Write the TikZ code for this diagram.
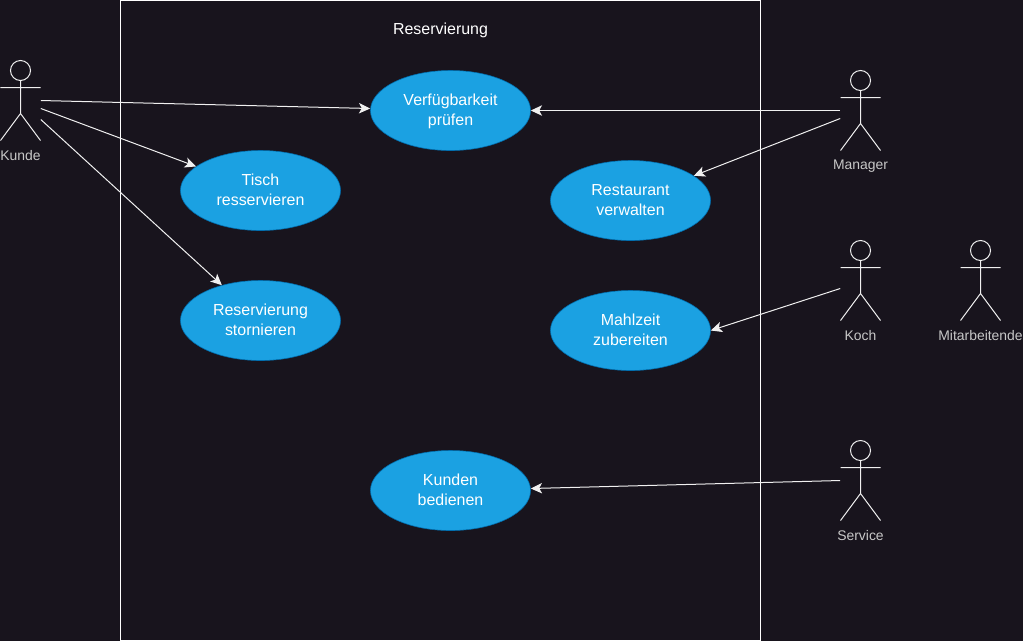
\documentclass[tikz,border=0pt]{standalone}
\usepackage{fontspec}
\setmainfont{Liberation Sans}
\usetikzlibrary{arrows.meta,shapes.geometric}
\definecolor{bgdark}{HTML}{18141D}
\definecolor{usefill}{HTML}{1BA1E2}
\definecolor{useline}{HTML}{006EAF}
\definecolor{labelgrey}{HTML}{C8C8C8}
\definecolor{strokewhite}{HTML}{F0F0F0}

\begin{document}
\begin{tikzpicture}[
        x=0.025cm,
        y=-0.025cm,
        usecase/.style={ellipse, draw=useline, fill=usefill, text=white, minimum width=4cm, minimum height=2cm, inner sep=0pt, align=center, font=\fontsize{11.35}{14.2}\selectfont, text height=24pt, text depth=2.5pt},
        system_box/.style={rectangle, draw=white, line width=0.025cm, minimum width=16cm, minimum height=16cm},
        actor_box/.style={rectangle, minimum width=1cm, minimum height=2cm, inner sep=0pt},
        actor_label/.style={text=labelgrey, inner sep=0pt, font=\fontsize{9.9}{12}\selectfont},
        arrow/.style={-{Stealth[length=0.28cm, width=0.26cm, inset=0.07cm]}, strokewhite, line width=0.025cm},
        stickman/.pic={
            \draw[strokewhite, line width=0.025cm]
                (0,-30) circle [radius=0.25cm]
                (0,-20) -- (0,13)
                (-20,-13) -- (20,-13)
                (-20,40) -- (0,13) -- (20,40);
        }
    ]
        \useasboundingbox (0,0) rectangle (1023,641);
        \fill[bgdark] (0,0) rectangle (1023,641);

        \begin{scope}[shift={(0.5,0.5)}]

        % System box
        \node[system_box] (system) at (440,320) {};
        \node[text=white, inner sep=0pt, font=\fontsize{11.35}{14.2}\selectfont] (title) at (440,30) {Reservierung};

        % Use cases
        \node[usecase] (pruefen) at (450,110) {Verfügbarkeit\\prüfen};
        \node[usecase] (tisch) at (260,190) {Tisch\\resservieren};
        \node[usecase] (stornieren) at (260,320) {Reservierung\\stornieren};
        \node[usecase] (verwalten) at (630,200) {Restaurant\\verwalten};
        \node[usecase] (mahlzeit) at (630,330) {Mahlzeit\\zubereiten};
        \node[usecase] (bedienen) at (450,490) {Kunden\\bedienen};

        % Actors
        \node[actor_box] (kunde) at (20,100) {};
        \pic at (kunde) {stickman};
        \node[actor_label] (kunde_label) at (20,155.5) {Kunde};

        \node[actor_box] (manager) at (860,110) {};
        \pic at (manager) {stickman};
        \node[actor_label] (manager_label) at (860,165.5) {Manager};

        \node[actor_box] (koch) at (860,280) {};
        \pic at (koch) {stickman};
        \node[actor_label] (koch_label) at (860,335.5) {Koch};

        \node[actor_box] (mitarbeitende) at (980,280) {};
        \pic at (mitarbeitende) {stickman};
        \node[actor_label] (mitarbeitende_label) at (980,335.5) {Mitarbeitende};

        \node[actor_box] (service) at (860,480) {};
        \pic at (service) {stickman};
        \node[actor_label] (service_label) at (860,535.5) {Service};

        % Kunde arrows
        \draw[arrow] (kunde.east) -- ([yshift=0.05cm]pruefen.west);
        \draw[arrow] ([yshift=-0.2cm]kunde.east) -- (tisch);
        \draw[arrow] ([yshift=-0.475cm]kunde.east) -- (stornieren);

        % Staff arrows
        \draw[arrow] (manager.west) -- (pruefen.east);
        \draw[arrow] ([yshift=-0.2cm]manager.west) -- (verwalten);
        \draw[arrow] ([yshift=-0.2cm]koch.west) -- (mahlzeit.east);
        \draw[arrow] (service.west) -- ([yshift=0.05cm]bedienen.east);

        \end{scope}

    \end{tikzpicture}
\end{document}
